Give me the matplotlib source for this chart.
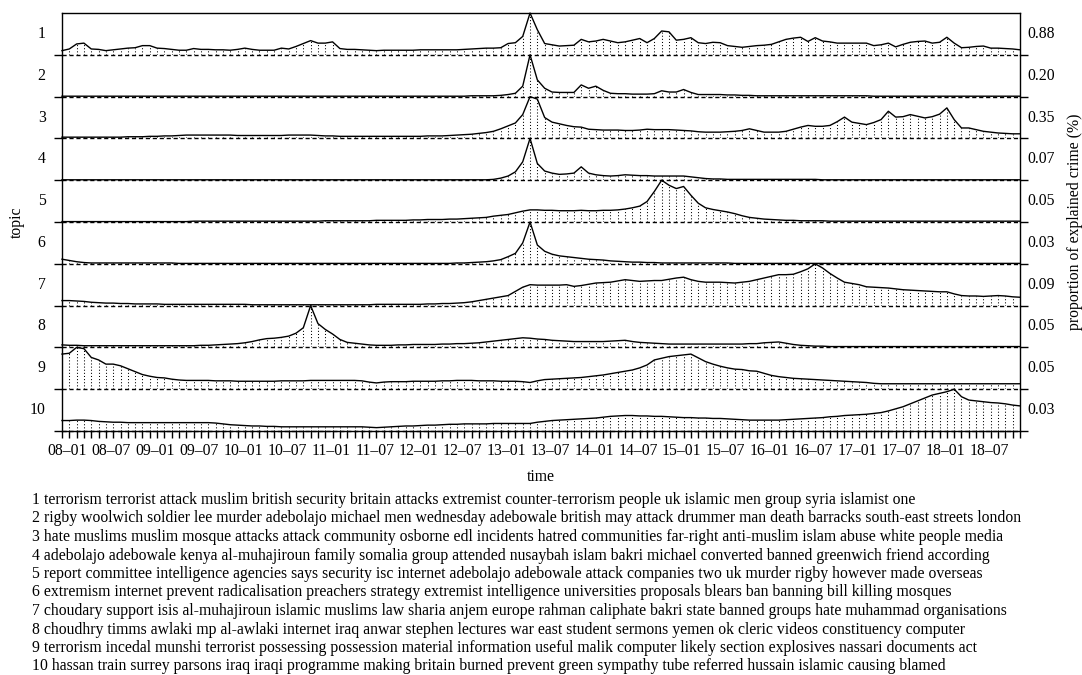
import matplotlib
matplotlib.use('Agg')
import matplotlib.pyplot as plt
import matplotlib.transforms as mtransforms
import numpy as np

plt.rcParams['font.family'] = ['Liberation Serif', 'DejaVu Serif']
plt.rcParams['font.size'] = 11.3

# monthly values, Jan 2008 .. Dec 2018, given as % of each topic's peak month
topic1 = [10, 14, 26, 28, 14, 13, 10, 12, 14, 16, 17, 22,
          22, 16, 15, 13, 11, 11, 15, 13, 13, 12, 12, 11,
          13, 16, 13, 11, 11, 11, 16, 14, 20, 27, 34, 28,
          28, 31, 15, 13, 13, 12, 11, 10, 11, 11, 11, 11,
          11, 12, 12, 12, 12, 12, 12, 13, 14, 15, 16, 16,
          17, 27, 29, 44, 100, 60, 27, 24, 21, 22, 23, 37,
          31, 33, 37, 33, 29, 31, 35, 39, 29, 39, 57, 55,
          35, 37, 41, 29, 27, 30, 29, 22, 20, 18, 20, 22,
          23, 25, 31, 37, 40, 42, 32, 41, 33, 31, 28, 28,
          28, 28, 28, 22, 24, 28, 19, 25, 30, 32, 33, 28,
          30, 42, 28, 17, 18, 20, 21, 16, 16, 15, 14, 12]
topic2 = [1, 1, 1, 1, 1, 1, 1, 1, 1, 1, 1, 1,
          1, 1, 1, 1, 1, 1, 1, 1, 1, 1, 1, 1,
          1, 1, 1, 1, 1, 1, 1, 1, 1, 1, 1, 1,
          1, 1, 1, 1, 1, 1, 1, 1, 1, 1, 1, 1,
          1, 1, 1, 1, 1, 1, 1, 1, 2, 2, 2, 2,
          3, 5, 8, 25, 100, 40, 20, 11, 10, 10, 10, 28,
          20, 25, 15, 8, 7, 7, 6, 6, 6, 7, 14, 11,
          11, 17, 10, 5, 5, 5, 5, 4, 4, 3, 3, 2,
          2, 2, 2, 2, 2, 2, 2, 2, 2, 2, 2, 2,
          2, 2, 2, 1, 1, 1, 1, 1, 1, 1, 1, 1,
          1, 1, 1, 1, 1, 1, 1, 1, 1, 1, 1, 1]
topic3 = [3, 3, 3, 3, 3, 3, 3, 3, 3, 4, 4, 4,
          5, 5, 6, 6, 7, 8, 8, 8, 8, 8, 8, 8,
          7, 7, 7, 7, 7, 7, 7, 8, 8, 8, 8, 7,
          6, 6, 5, 5, 5, 5, 5, 5, 5, 5, 5, 5,
          5, 5, 6, 6, 6, 7, 8, 9, 10, 12, 14, 17,
          23, 30, 37, 57, 100, 94, 50, 39, 35, 31, 28, 27,
          22, 21, 20, 20, 20, 19, 19, 20, 22, 21, 21, 21,
          20, 19, 18, 16, 15, 15, 15, 16, 17, 19, 23, 19,
          15, 15, 15, 17, 22, 27, 31, 29, 29, 31, 40, 51,
          39, 36, 33, 38, 45, 65, 51, 52, 57, 53, 49, 52,
          58, 73, 45, 25, 25, 21, 17, 15, 13, 12, 11, 11]
topic4 = [1, 1, 1, 1, 1, 1, 1, 1, 1, 1, 1, 1,
          1, 1, 1, 1, 1, 1, 1, 1, 1, 1, 1, 1,
          1, 1, 1, 1, 1, 1, 1, 1, 1, 1, 1, 1,
          1, 1, 1, 1, 1, 1, 1, 1, 1, 1, 1, 1,
          1, 1, 1, 1, 1, 1, 1, 1, 1, 1, 1, 2,
          5, 10, 20, 44, 100, 40, 22, 17, 14, 15, 17, 32,
          17, 13, 11, 10, 11, 13, 12, 11, 11, 10, 10, 10,
          10, 10, 8, 6, 4, 3, 3, 2, 2, 2, 2, 2,
          2, 2, 2, 2, 2, 2, 2, 2, 1, 1, 1, 1,
          1, 1, 1, 1, 1, 1, 1, 1, 1, 1, 1, 1,
          1, 1, 1, 1, 1, 1, 1, 1, 1, 1, 1, 1]
topic5 = [1, 1, 1, 1, 1, 1, 1, 1, 1, 1, 1, 1,
          1, 1, 1, 1, 1, 1, 2, 2, 2, 2, 2, 2,
          2, 2, 2, 2, 2, 2, 2, 2, 2, 2, 2, 2,
          3, 3, 3, 3, 3, 3, 3, 4, 4, 4, 4, 4,
          5, 5, 6, 6, 6, 7, 7, 8, 9, 10, 11, 14,
          16, 18, 22, 26, 29, 29, 28, 28, 27, 27, 27, 28,
          27, 27, 28, 28, 29, 31, 34, 38, 49, 73, 100, 88,
          80, 85, 64, 45, 34, 30, 27, 24, 20, 15, 11, 9,
          7, 6, 5, 4, 4, 3, 3, 3, 3, 2, 2, 2,
          2, 2, 2, 2, 2, 2, 2, 2, 2, 2, 2, 2,
          2, 2, 2, 2, 2, 2, 2, 2, 2, 2, 2, 2]
topic6 = [11, 8, 5, 3, 2, 2, 2, 2, 2, 2, 2, 2,
          2, 2, 2, 2, 1, 1, 1, 1, 1, 1, 1, 1,
          1, 1, 1, 1, 1, 1, 1, 1, 1, 1, 1, 1,
          1, 1, 1, 1, 1, 1, 1, 1, 1, 1, 1, 1,
          1, 1, 1, 1, 1, 1, 2, 2, 3, 4, 5, 7,
          10, 17, 25, 50, 100, 45, 30, 23, 19, 17, 15, 13,
          11, 10, 9, 7, 6, 5, 4, 4, 3, 3, 2, 2,
          2, 2, 2, 2, 2, 2, 2, 2, 1, 1, 1, 1,
          1, 1, 1, 1, 1, 1, 1, 1, 1, 1, 1, 1,
          1, 1, 1, 1, 1, 1, 1, 1, 1, 1, 1, 1,
          1, 1, 1, 1, 1, 1, 1, 1, 1, 1, 1, 1]
topic7 = [12, 12, 11, 10, 8, 7, 6, 6, 5, 5, 4, 4,
          4, 4, 3, 3, 3, 3, 3, 3, 3, 3, 3, 3,
          3, 3, 2, 2, 2, 2, 2, 2, 2, 2, 2, 2,
          2, 2, 2, 2, 2, 2, 2, 3, 3, 3, 3, 3,
          3, 3, 4, 4, 5, 5, 6, 7, 9, 12, 15, 18,
          21, 24, 34, 44, 50, 49, 49, 49, 49, 50, 46, 48,
          51, 54, 55, 56, 59, 62, 60, 58, 59, 60, 60, 63,
          66, 68, 62, 58, 56, 56, 56, 55, 54, 56, 58, 62,
          66, 70, 74, 74, 75, 81, 88, 100, 90, 77, 66, 56,
          53, 50, 45, 44, 43, 42, 40, 38, 37, 36, 35, 34,
          33, 33, 28, 24, 23, 23, 22, 23, 24, 23, 21, 20]
topic8 = [6, 5, 5, 4, 4, 4, 4, 4, 4, 4, 4, 4,
          4, 4, 4, 4, 4, 4, 4, 5, 5, 6, 7, 8,
          9, 11, 14, 18, 21, 22, 24, 27, 34, 47, 100, 57,
          43, 32, 19, 12, 10, 8, 6, 5, 5, 5, 6, 6,
          7, 7, 7, 7, 8, 8, 9, 9, 10, 11, 13, 15,
          17, 19, 21, 23, 22, 20, 19, 17, 16, 15, 14, 14,
          14, 14, 14, 15, 16, 17, 14, 12, 11, 10, 9, 8,
          8, 8, 8, 8, 8, 8, 8, 8, 8, 8, 9, 9,
          11, 12, 13, 10, 7, 5, 4, 3, 3, 2, 2, 2,
          2, 2, 2, 2, 2, 2, 2, 2, 2, 2, 2, 2,
          2, 2, 2, 2, 2, 2, 2, 2, 2, 2, 2, 2]
topic9 = [84, 86, 100, 97, 76, 70, 60, 60, 56, 49, 42, 35,
          31, 28, 27, 24, 22, 21, 21, 21, 21, 20, 20, 20,
          19, 19, 19, 19, 19, 19, 20, 20, 20, 20, 21, 21,
          21, 21, 21, 21, 21, 20, 17, 15, 17, 18, 18, 18,
          19, 19, 19, 19, 20, 20, 21, 21, 21, 20, 20, 20,
          19, 19, 19, 18, 16, 20, 23, 24, 25, 26, 27, 28,
          30, 32, 34, 37, 40, 43, 46, 51, 58, 70, 74, 78,
          80, 82, 84, 75, 66, 60, 55, 51, 48, 47, 44, 43,
          38, 33, 30, 28, 26, 25, 24, 23, 22, 21, 20, 19,
          18, 17, 16, 14, 13, 13, 13, 13, 13, 13, 13, 13,
          13, 13, 13, 13, 13, 13, 13, 13, 13, 13, 13, 13]
topic10 = [25, 25, 26, 26, 25, 23, 22, 21, 21, 20, 20, 20,
           20, 20, 20, 20, 20, 20, 20, 20, 20, 19, 17, 15,
           14, 13, 12, 12, 11, 11, 10, 10, 10, 10, 10, 10,
           10, 10, 10, 10, 10, 10, 9, 8, 9, 10, 11, 12,
           12, 13, 14, 14, 15, 16, 16, 17, 17, 17, 17, 18,
           18, 18, 18, 18, 18, 21, 23, 25, 26, 27, 28, 29,
           30, 31, 33, 35, 36, 37, 37, 36, 36, 35, 35, 34,
           33, 32, 32, 31, 31, 30, 30, 29, 28, 27, 26, 26,
           26, 26, 26, 27, 28, 29, 30, 31, 32, 34, 35, 37,
           38, 39, 40, 42, 44, 48, 53, 58, 65, 72, 79, 86,
           90, 94, 100, 82, 74, 72, 70, 68, 67, 65, 62, 60]

# peak proportion of explained crime (%) per topic
peaks = [0.88, 0.20, 0.35, 0.07, 0.05, 0.03, 0.09, 0.05, 0.05, 0.03]
topics = [topic1, topic2, topic3, topic4, topic5,
          topic6, topic7, topic8, topic9, topic10]

tick_labels = ['08\u201301', '08\u201307', '09\u201301', '09\u201307', '10\u201301', '10\u201307',
               '11\u201301', '11\u201307', '12\u201301', '12\u201307', '13\u201301', '13\u201307',
               '14\u201301', '14\u201307', '15\u201301', '15\u201307', '16\u201301', '16\u201307',
               '17\u201301', '17\u201307', '18\u201301', '18\u201307']

topic_words = [
    '1 terrorism terrorist attack muslim british security britain attacks extremist counter-terrorism people uk islamic men group syria islamist one',
    '2 rigby woolwich soldier lee murder adebolajo michael men wednesday adebowale british may attack drummer man death barracks south-east streets london',
    '3 hate muslims muslim mosque attacks attack community osborne edl incidents hatred communities far-right anti-muslim islam abuse white people media',
    '4 adebolajo adebowale kenya al-muhajiroun family somalia group attended nusaybah islam bakri michael converted banned greenwich friend according',
    '5 report committee intelligence agencies says security isc internet adebolajo adebowale attack companies two uk murder rigby however made overseas',
    '6 extremism internet prevent radicalisation preachers strategy extremist intelligence universities proposals blears ban banning bill killing mosques',
    '7 choudary support isis al-muhajiroun islamic muslims law sharia anjem europe rahman caliphate bakri state banned groups hate muhammad organisations',
    '8 choudhry timms awlaki mp al-awlaki internet iraq anwar stephen lectures war east student sermons yemen ok cleric videos constituency computer',
    '9 terrorism incedal munshi terrorist possessing possession material information useful malik computer likely section explosives nassari documents act',
    '10 hassan train surrey parsons iraq iraqi programme making britain burned prevent green sympathy tube referred hussain islamic causing blamed',
]

months = np.arange(len(topic1))

fig = plt.figure(figsize=(10.82, 6.75), dpi=100)
axes = fig.subplots(10, 1, sharex=True, gridspec_kw=dict(hspace=0))
fig.subplots_adjust(left=0.0573, right=0.9427, top=0.9807, bottom=0.3615)

for i, ax in enumerate(axes):
    ax.patch.set_visible(False)  # so the next panel does not hide this baseline
    vals = np.array(topics[i]) / 100.0 * peaks[i]
    # dotted drop lines, dashed zero line, then the curve
    ax.vlines(months, 0, vals, colors='black', linestyles=(0, (1, 2)), lw=0.75)
    ax.axhline(0, color='black', ls=(0, (3, 2)), lw=1.0, clip_on=False)
    ax.plot(months, vals, color='black', lw=1.0, clip_on=False)
    ax.set_xlim(0, len(months) - 1)
    ax.set_ylim(0, max(vals))

    for side in ['left', 'right', 'top', 'bottom']:
        ax.spines[side].set_linewidth(1.0)
    ax.spines['top'].set_visible(i == 0)
    ax.spines['bottom'].set_visible(i == 9)

    ax.set_yticks([0])
    ax.tick_params(axis='y', left=True, right=True, labelleft=False,
                   direction='out', length=5.5, width=1.0)

    ax.text(-0.017, 0.5, str(i + 1), transform=ax.transAxes,
            ha='right', va='center')
    ax.text(1.008, 0.5, '%.2f' % peaks[i], transform=ax.transAxes,
            ha='left', va='center')

# monthly ticks, labels every six months
bottom = axes[-1]
bottom.set_xticks(months)
bottom.set_xticklabels([tick_labels[m // 6] if m % 6 == 0 else '' for m in months])
bottom.tick_params(axis='x', direction='out', length=5, width=1.0, pad=4)
offset = mtransforms.ScaledTranslation(5.5 / 100, 0, fig.dpi_scale_trans)
for lbl in bottom.get_xticklabels():
    lbl.set_transform(lbl.get_transform() + offset)
for ax in axes[:-1]:
    ax.tick_params(axis='x', bottom=False, labelbottom=False)

fig.text(541 / 1082, 1 - 477 / 675, 'time', ha='center', va='center')
fig.text(17 / 1082, 1 - 222 / 675, 'topic', rotation=90, ha='center', va='center')
fig.text(1075 / 1082, 1 - 222 / 675, 'proportion of explained crime (%)',
         rotation=90, ha='center', va='center')

for k, line in enumerate(topic_words):
    fig.text(32 / 1082, 1 - (500 + k * 18.5) / 675, line, ha='left', va='center')

plt.savefig('out.png', dpi=100)
